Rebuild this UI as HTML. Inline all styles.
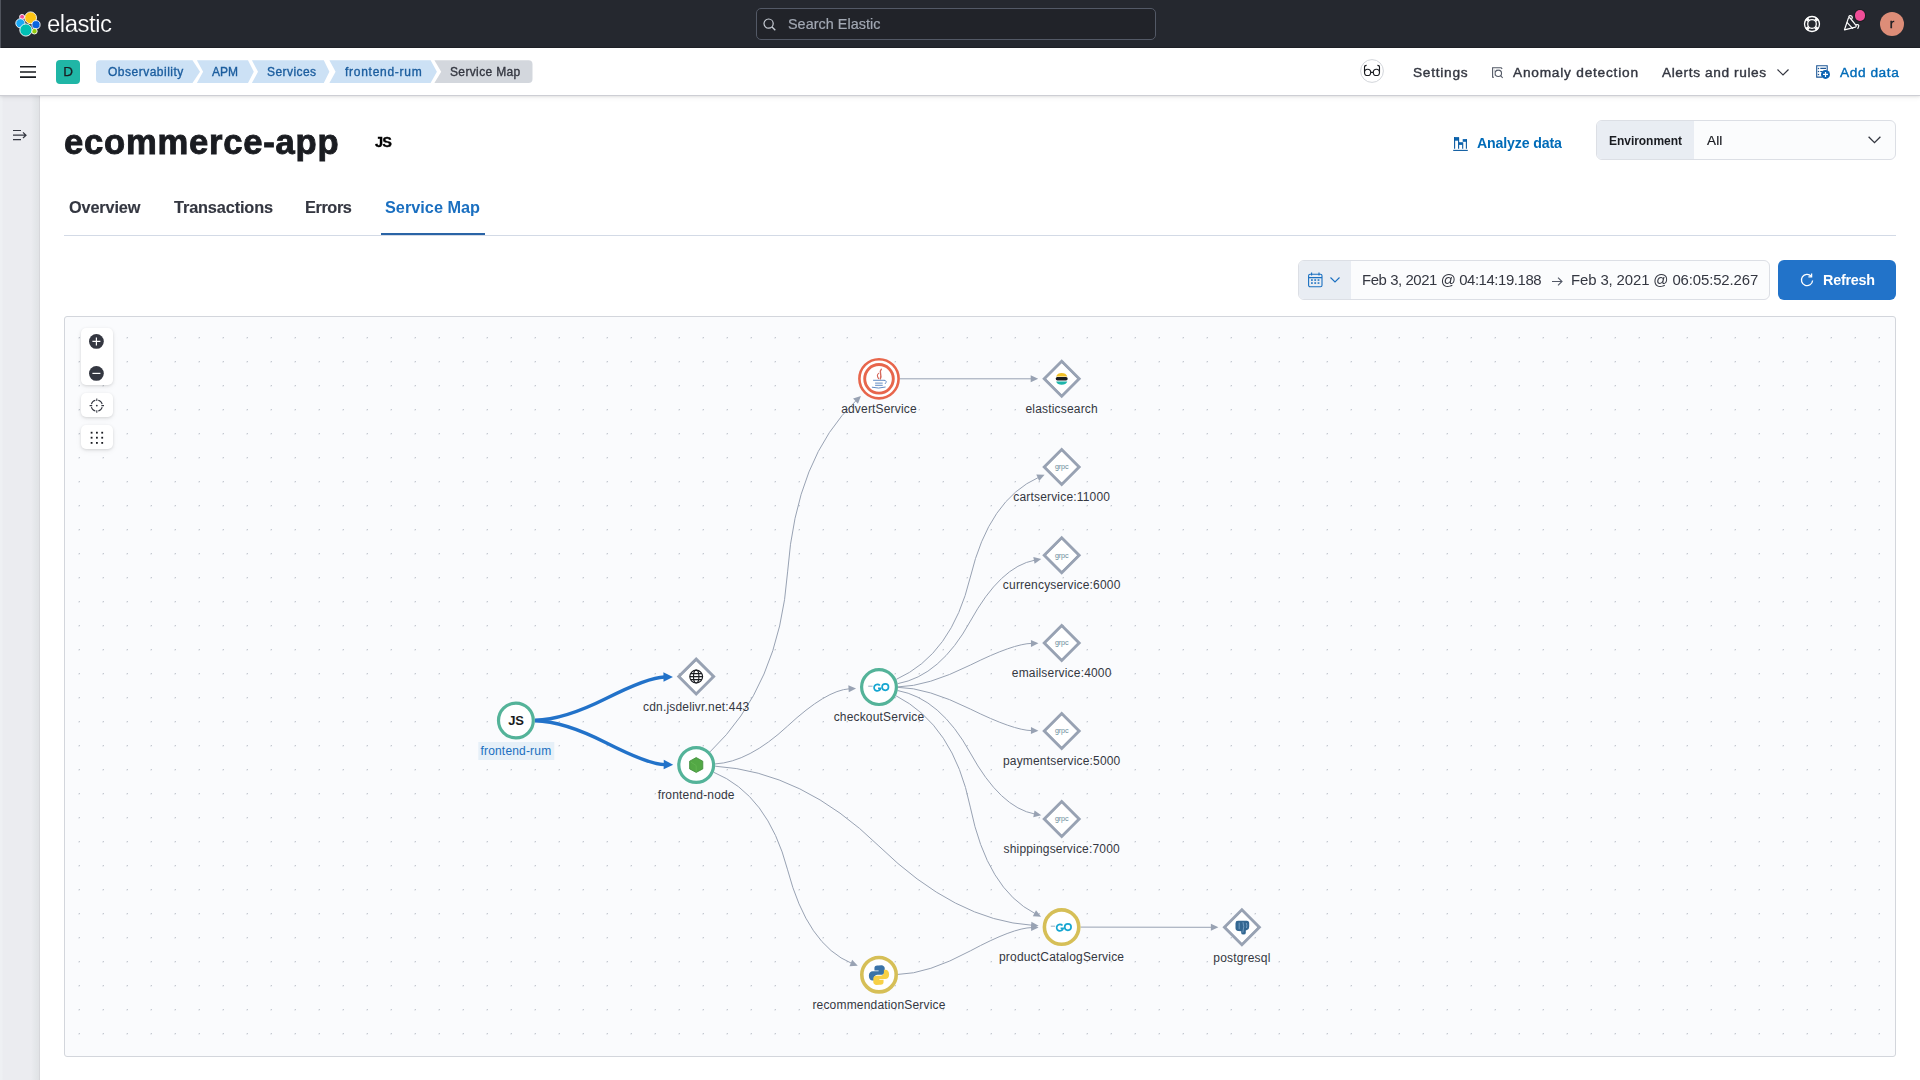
<!DOCTYPE html>
<html><head><meta charset="utf-8"><style>
*{box-sizing:border-box;margin:0;padding:0}
html,body{width:1920px;height:1080px;overflow:hidden;background:#fff;font-family:"Liberation Sans",sans-serif;color:#343741}
.a{position:absolute;white-space:nowrap;line-height:1}
body{-webkit-font-smoothing:antialiased}
.t{will-change:transform}
#top{position:absolute;left:0;top:0;width:1920px;height:48px;background:#25282f}
#search{position:absolute;left:756px;top:8px;width:400px;height:32px;border:1px solid #535966;border-radius:5px;background:#212329}
#hdr2{position:absolute;left:0;top:48px;width:1920px;height:48px;background:#fff;border-bottom:1px solid #cdced4;box-shadow:0 1px 2px rgba(0,0,0,.07),0 2px 5px rgba(0,0,0,.05)}
#leftnav{position:absolute;left:0;top:96px;width:40px;height:984px;background:linear-gradient(90deg,#eef0f3 0,#eef0f3 2px,#ebecf0 3px,#ebecf0 31px,#e3e6e9 36px,#e1e3e6 38.5px,#d6d7db 39px,#d6d7db 40px)}
#map{position:absolute;left:64px;top:316px;width:1832px;height:741px;border:1px solid #d3d6dc;border-radius:3px;background:#fafbfd}
.ctl{position:absolute;left:81px;width:32px;background:#fff;border-radius:5px;box-shadow:0 1px 3px rgba(0,0,0,.12),0 2px 6px rgba(0,0,0,.05)}
</style></head><body>
<div id="top"><div id="search"></div><div class="a" style="left:0;top:0;width:1px;height:48px;background:#50545d"></div><div class="a" style="left:1px;top:47px;width:1919px;height:1px;background:#202228"></div></div>
<div id="leftnav"></div><div id="map"></div><div id="hdr2"></div>
<svg class="a" style="left:0;top:0" width="1920" height="1080" viewBox="0 0 1920 1080">
<defs><pattern id="dots" x="0" y="0" width="24" height="24" patternUnits="userSpaceOnUse"><rect x="7" y="1" width="1" height="1" fill="#c4c9d1"/><rect x="6" y="1" width="1" height="1" fill="#e9ebef"/><rect x="6" y="2" width="2" height="1" fill="#eceef2"/></pattern><clipPath id="mc"><rect x="65" y="317" width="1830" height="739" rx="2"/></clipPath></defs>
<g clip-path="url(#mc)"><rect x="65" y="317" width="1830" height="739" fill="url(#dots)"/>
<path d="M534.90,720.25Q563.50,719.89 606.05,698.55Q648.60,677.21 664.45,677.01" stroke="#2272c9" stroke-width="3.4" fill="none"/><polygon points="672.95,676.90 663.51,681.77 663.39,672.27" fill="#2272c9"/>
<path d="M534.90,720.75Q563.56,721.14 606.05,742.75Q648.54,764.36 664.70,764.58" stroke="#2272c9" stroke-width="3.4" fill="none"/><polygon points="673.20,764.69 663.64,769.31 663.77,759.81" fill="#2272c9"/>
<path d="M709.98,751.91Q779.24,686.12 787.60,571.90Q795.96,457.68 856.23,400.43" stroke="#98a2b3" stroke-width="1" fill="none"/><polygon points="860.95,395.95 857.92,403.65 853.10,398.58" fill="#98a2b3"/>
<path d="M715.17,763.92Q748.92,762.01 787.60,726.05Q826.28,690.09 849.55,688.77" stroke="#98a2b3" stroke-width="1" fill="none"/><polygon points="856.04,688.40 848.75,692.32 848.35,685.33" fill="#98a2b3"/>
<path d="M715.16,766.19Q802.57,771.66 878.90,846.05Q955.23,920.44 1032.16,925.26" stroke="#98a2b3" stroke-width="1" fill="none"/><polygon points="1038.65,925.66 1030.94,928.69 1031.38,921.70" fill="#98a2b3"/>
<path d="M713.74,772.29Q767.87,794.79 787.60,869.85Q807.33,944.91 851.76,963.38" stroke="#98a2b3" stroke-width="1" fill="none"/><polygon points="857.76,965.87 849.49,966.23 852.18,959.76" fill="#98a2b3"/>
<path d="M899.90,378.80L1031.70,378.80" stroke="#98a2b3" stroke-width="1" fill="none"/><polygon points="1038.20,378.80 1030.70,382.30 1030.70,375.30" fill="#98a2b3"/>
<path d="M896.34,679.33Q951.72,654.52 970.35,577.05Q988.98,499.58 1038.65,477.33" stroke="#98a2b3" stroke-width="1" fill="none"/><polygon points="1044.58,474.67 1039.17,480.93 1036.31,474.54" fill="#98a2b3"/>
<path d="M897.69,683.66Q940.32,675.80 970.35,621.15Q1000.38,566.50 1034.91,560.14" stroke="#98a2b3" stroke-width="1" fill="none"/><polygon points="1041.30,558.96 1034.56,563.76 1033.29,556.88" fill="#98a2b3"/>
<path d="M898.00,686.86Q927.19,686.49 970.35,665.05Q1013.51,643.61 1031.94,643.37" stroke="#98a2b3" stroke-width="1" fill="none"/><polygon points="1038.44,643.29 1030.99,646.89 1030.90,639.89" fill="#98a2b3"/>
<path d="M898.00,687.34Q927.17,687.70 970.35,709.05Q1013.53,730.40 1031.94,730.63" stroke="#98a2b3" stroke-width="1" fill="none"/><polygon points="1038.44,730.71 1030.90,734.12 1030.98,727.12" fill="#98a2b3"/>
<path d="M897.69,690.54Q940.32,698.40 970.35,753.05Q1000.38,807.70 1034.91,814.06" stroke="#98a2b3" stroke-width="1" fill="none"/><polygon points="1041.30,815.24 1033.29,817.32 1034.56,810.44" fill="#98a2b3"/>
<path d="M895.93,695.73Q953.56,725.10 970.30,807.10Q987.04,889.10 1035.32,913.70" stroke="#98a2b3" stroke-width="1" fill="none"/><polygon points="1041.11,916.66 1032.84,916.37 1036.02,910.13" fill="#98a2b3"/>
<path d="M898.00,974.40Q927.55,973.94 970.30,950.90Q1013.05,927.86 1032.10,927.56" stroke="#98a2b3" stroke-width="1" fill="none"/><polygon points="1038.60,927.46 1031.16,931.08 1031.05,924.08" fill="#98a2b3"/>
<path d="M1080.60,927.10L1211.90,927.30" stroke="#98a2b3" stroke-width="1" fill="none"/><polygon points="1218.40,927.30 1210.90,930.80 1210.90,923.80" fill="#98a2b3"/>
<circle cx="515.9" cy="720.5" r="17.4" fill="#fff" stroke="#54b399" stroke-width="3.2"/>
<path d="M696.2,657.1L715.7,676.6L696.2,696.1L676.7,676.6Z M696.2,661.4L681.0,676.6L696.2,691.8000000000001L711.4000000000001,676.6Z" fill="#98a2b3" fill-rule="evenodd"/>
<path d="M696.2,661.4L711.4000000000001,676.6L696.2,691.8000000000001L681.0,676.6Z" fill="#fff"/>
<circle cx="696.2" cy="765.0" r="17.4" fill="#fff" stroke="#54b399" stroke-width="3.2"/>
<circle cx="879.0" cy="378.8" r="20.9" fill="#fff"/>
<circle cx="879.0" cy="378.8" r="19.6" fill="none" stroke="#e7664c" stroke-width="2.6"/>
<circle cx="879.0" cy="378.8" r="14.3" fill="none" stroke="#e7664c" stroke-width="2.9"/>
<path d="M1061.7,359.3L1081.2,378.8L1061.7,398.3L1042.2,378.8Z M1061.7,363.6L1046.5,378.8L1061.7,394.0L1076.9,378.8Z" fill="#98a2b3" fill-rule="evenodd"/>
<path d="M1061.7,363.6L1076.9,378.8L1061.7,394.0L1046.5,378.8Z" fill="#fff"/>
<path d="M1061.7,447.5L1081.2,467.0L1061.7,486.5L1042.2,467.0Z M1061.7,451.8L1046.5,467.0L1061.7,482.2L1076.9,467.0Z" fill="#98a2b3" fill-rule="evenodd"/>
<path d="M1061.7,451.8L1076.9,467.0L1061.7,482.2L1046.5,467.0Z" fill="#fff"/>
<path d="M1061.7,535.7L1081.2,555.2L1061.7,574.7L1042.2,555.2Z M1061.7,540.0L1046.5,555.2L1061.7,570.4000000000001L1076.9,555.2Z" fill="#98a2b3" fill-rule="evenodd"/>
<path d="M1061.7,540.0L1076.9,555.2L1061.7,570.4000000000001L1046.5,555.2Z" fill="#fff"/>
<path d="M1061.7,623.5L1081.2,643.0L1061.7,662.5L1042.2,643.0Z M1061.7,627.8L1046.5,643.0L1061.7,658.2L1076.9,643.0Z" fill="#98a2b3" fill-rule="evenodd"/>
<path d="M1061.7,627.8L1076.9,643.0L1061.7,658.2L1046.5,643.0Z" fill="#fff"/>
<path d="M1061.7,711.5L1081.2,731.0L1061.7,750.5L1042.2,731.0Z M1061.7,715.8L1046.5,731.0L1061.7,746.2L1076.9,731.0Z" fill="#98a2b3" fill-rule="evenodd"/>
<path d="M1061.7,715.8L1076.9,731.0L1061.7,746.2L1046.5,731.0Z" fill="#fff"/>
<path d="M1061.7,799.5L1081.2,819.0L1061.7,838.5L1042.2,819.0Z M1061.7,803.8L1046.5,819.0L1061.7,834.2L1076.9,819.0Z" fill="#98a2b3" fill-rule="evenodd"/>
<path d="M1061.7,803.8L1076.9,819.0L1061.7,834.2L1046.5,819.0Z" fill="#fff"/>
<circle cx="879.0" cy="687.1" r="17.4" fill="#fff" stroke="#54b399" stroke-width="3.2"/>
<circle cx="1061.6" cy="927.1" r="17.2" fill="#fff" stroke="#d6bf57" stroke-width="3.6"/>
<path d="M1241.9,907.8L1261.4,927.3L1241.9,946.8L1222.4,927.3Z M1241.9,912.0999999999999L1226.7,927.3L1241.9,942.5L1257.1000000000001,927.3Z" fill="#98a2b3" fill-rule="evenodd"/>
<path d="M1241.9,912.0999999999999L1257.1000000000001,927.3L1241.9,942.5L1226.7,927.3Z" fill="#fff"/>
<circle cx="879.0" cy="974.7" r="17.2" fill="#fff" stroke="#d6bf57" stroke-width="3.6"/>
<text x="515.9" y="725.3" text-anchor="middle" font-size="13" font-weight="700" fill="#1a1c21" font-family="Liberation Sans" letter-spacing="-0.3">JS</text>
<g stroke="#1a1c21" stroke-width="1.15" fill="none"><circle cx="696.2" cy="676.6" r="6.4"/><ellipse cx="696.2" cy="676.6" rx="2.7" ry="6.4"/><path d="M689.8000000000001,676.6h12.8M690.6,673.6h11.2M690.6,679.6h11.2"/></g>
<polygon points="696.2,757.55 702.8000000000001,761.2 702.8000000000001,768.9 696.2,772.45 689.6,768.9 689.6,761.2" fill="#53a845" stroke="#3f8b3a" stroke-width="0.8" stroke-linejoin="round"/><path d="M696.2,765.5V772.0M696.2,765.5L690.7,762.0" stroke="#66b955" stroke-width="0.7" fill="none"/>
<g fill="none" stroke-linecap="round"><path d="M881.3 369.2C878.3 372 882.6 374.6 880.3 378.9" stroke="#d6695c" stroke-width="1.4"/><path d="M878.6 373.4C876.3 375.2 877.6 377.2 878.6 378.6" stroke="#d6695c" stroke-width="1.1"/><path d="M873.5 380.3H884M875.5 383.1H882.3M875.5 385.3H882.3M872.3 387.3Q878.5 389 885.2 387.1M884.3 380.3Q887.8 380.6 885.3 383.6" stroke="#5b86c0" stroke-width="0.95"/></g>
<path d="M1056.1000000000001,376.5a5.9,5 0 0 1 11.2,0z" fill="#f0c02a"/><rect x="1055.7" y="377.0" width="12" height="3.5" rx="1.7" fill="#1a1c21"/><path d="M1056.1000000000001,381.5a5.9,4.8 0 0 0 11.2,0z" fill="#1eb5ab"/>
<text x="1061.7" y="469.3" text-anchor="middle" font-size="7.2" fill="#6b8d9a" font-family="Liberation Sans" letter-spacing="-0.15">grpc</text>
<text x="1061.7" y="557.5" text-anchor="middle" font-size="7.2" fill="#6b8d9a" font-family="Liberation Sans" letter-spacing="-0.15">grpc</text>
<text x="1061.7" y="645.3" text-anchor="middle" font-size="7.2" fill="#6b8d9a" font-family="Liberation Sans" letter-spacing="-0.15">grpc</text>
<text x="1061.7" y="733.3" text-anchor="middle" font-size="7.2" fill="#6b8d9a" font-family="Liberation Sans" letter-spacing="-0.15">grpc</text>
<text x="1061.7" y="821.3" text-anchor="middle" font-size="7.2" fill="#6b8d9a" font-family="Liberation Sans" letter-spacing="-0.15">grpc</text>
<g fill="none"><path d="M868.2,686.2h4.3" stroke="#8aa3b8" stroke-width="0.9"/><path d="M879.9,685.5A3.3,3.3 0 1 0 880.6,688.3000000000001H878.0" stroke="#17a6d1" stroke-width="1.7"/><circle cx="885.3" cy="687.1" r="3.2" stroke="#17a6d1" stroke-width="1.7"/></g>
<g fill="none"><path d="M1050.8,926.2h4.3" stroke="#8aa3b8" stroke-width="0.9"/><path d="M1062.5,925.5A3.3,3.3 0 1 0 1063.1999999999998,928.3000000000001H1060.6" stroke="#17a6d1" stroke-width="1.7"/><circle cx="1067.8999999999999" cy="927.1" r="3.2" stroke="#17a6d1" stroke-width="1.7"/></g>
<g transform="translate(879.0,974.9000000000001) scale(1.3) translate(-879.0,-974.7)"><path d="M878.5,967.5c-3,0 -3,1.3 -3,2.5v1.3h3.2v.6h-4.5c-1.7,0 -3,1.2 -3,3.5c0,2.4 1.2,3.6 2.8,3.6h1.2v-1.9c0,-1.5 1.2,-2.6 2.7,-2.6h3.3c1.2,0 2.2,-1 2.2,-2.2v-2.7c0,-1.3 -1.2,-2.2 -2.4,-2.3z" fill="#3b73a8"/><path d="M879.5,982.3000000000001c3,0 3,-1.3 3,-2.5v-1.3h-3.2v-.6h4.5c1.7,0 3,-1.2 3,-3.5c0,-2.4 -1.2,-3.6 -2.8,-3.6h-1.2v1.9c0,1.5 -1.2,2.6 -2.7,2.6h-3.3c-1.2,0 -2.2,1 -2.2,2.2v2.7c0,1.3 1.2,2.2 2.4,2.3z" fill="#f7d046"/></g>
<path d="M1235.5 923.2Q1235.5 920.8 1238 920.8H1246.8Q1249.2 920.8 1249.2 923.5V926.8Q1249.2 929.4 1247 930L1245.8 930.4V933Q1245.8 934.5 1243.5 934.5Q1241.2 934.5 1241.2 933V931.2L1238.2 931Q1235.5 930.6 1235.5 928Z" fill="#336791"/><path d="M1239.2 922.6V929.2M1243 922.2Q1244.6 926 1242.8 932.6M1246.3 923Q1247.3 925.5 1246.5 928" stroke="#8db3d6" stroke-width="0.7" fill="none"/>
<rect x="478.29999999999995" y="742.0" width="76" height="18" fill="#e6f0f8"/>
<text x="515.9" y="754.7" text-anchor="middle" font-size="12" fill="#1a6fc0" font-family="Liberation Sans" letter-spacing="0.18">frontend-rum</text>
<text x="696.2" y="710.8000000000001" text-anchor="middle" font-size="12" fill="#343741" font-family="Liberation Sans" letter-spacing="0.18">cdn.jsdelivr.net:443</text>
<text x="696.2" y="799.2" text-anchor="middle" font-size="12" fill="#343741" font-family="Liberation Sans" letter-spacing="0.18">frontend-node</text>
<text x="879.0" y="413.0" text-anchor="middle" font-size="12" fill="#343741" font-family="Liberation Sans" letter-spacing="0.18">advertService</text>
<text x="1061.7" y="413.0" text-anchor="middle" font-size="12" fill="#343741" font-family="Liberation Sans" letter-spacing="0.18">elasticsearch</text>
<text x="1061.7" y="501.2" text-anchor="middle" font-size="12" fill="#343741" font-family="Liberation Sans" letter-spacing="0.18">cartservice:11000</text>
<text x="1061.7" y="589.4000000000001" text-anchor="middle" font-size="12" fill="#343741" font-family="Liberation Sans" letter-spacing="0.18">currencyservice:6000</text>
<text x="1061.7" y="677.2" text-anchor="middle" font-size="12" fill="#343741" font-family="Liberation Sans" letter-spacing="0.18">emailservice:4000</text>
<text x="1061.7" y="765.2" text-anchor="middle" font-size="12" fill="#343741" font-family="Liberation Sans" letter-spacing="0.18">paymentservice:5000</text>
<text x="1061.7" y="853.2" text-anchor="middle" font-size="12" fill="#343741" font-family="Liberation Sans" letter-spacing="0.18">shippingservice:7000</text>
<text x="879.0" y="721.3000000000001" text-anchor="middle" font-size="12" fill="#343741" font-family="Liberation Sans" letter-spacing="0.18">checkoutService</text>
<text x="1061.6" y="961.3000000000001" text-anchor="middle" font-size="12" fill="#343741" font-family="Liberation Sans" letter-spacing="0.18">productCatalogService</text>
<text x="1241.9" y="961.5" text-anchor="middle" font-size="12" fill="#343741" font-family="Liberation Sans" letter-spacing="0.18">postgresql</text>
<text x="879.0" y="1008.9000000000001" text-anchor="middle" font-size="12" fill="#343741" font-family="Liberation Sans" letter-spacing="0.18">recommendationService</text>
</g></svg>
<div class="ctl" style="top:328px;height:57px"></div>
<div class="ctl" style="top:393px;height:24px"></div>
<div class="ctl" style="top:425px;height:24px"></div>
<svg class="a" style="left:81px;top:328px" width="32" height="122" viewBox="81 328 32 122">
<circle cx="96.4" cy="341.4" r="7.4" fill="#343741"/><path d="M96.4 337.4v8M92.4 341.4h8" stroke="#fff" stroke-width="1.2"/>
<circle cx="96.4" cy="373.4" r="7.4" fill="#343741"/><path d="M92.4 373.4h8" stroke="#fff" stroke-width="1.2"/>
<path d="M102.21 407.05A5.6 5.6 0 0 1 98.25 411.01M95.35 411.01A5.6 5.6 0 0 1 91.39 407.05M91.39 404.15A5.6 5.6 0 0 1 95.35 400.19M98.25 400.19A5.6 5.6 0 0 1 102.21 404.15M96.8 398.40000000000003v2.6M96.8 410.20000000000005v2.6M89.6 405.6h2.6M101.39999999999999 405.6h2.6" fill="none" stroke="#343741" stroke-width="1.05"/><circle cx="96.8" cy="405.6" r="0.9" fill="#343741"/>
<g fill="#1a1c21"><rect x="90.7" y="431.8" width="1.8" height="1.8"/><rect x="96" y="431.8" width="1.8" height="1.8"/><rect x="101.3" y="431.8" width="1.8" height="1.8"/><rect x="90.7" y="436.8" width="1.8" height="1.8"/><rect x="96" y="436.8" width="1.8" height="1.8"/><rect x="101.3" y="436.8" width="1.8" height="1.8"/><rect x="90.7" y="442" width="1.8" height="1.8"/><rect x="96" y="442" width="1.8" height="1.8"/><rect x="101.3" y="442" width="1.8" height="1.8"/></g>
</svg>
<svg class="a" style="left:14px;top:10px" width="29" height="29" viewBox="14 10 29 29">
<g stroke="#fff" stroke-width="0.9">
<circle cx="30.6" cy="17.8" r="5.9" fill="#fec514"/>
<circle cx="22.1" cy="16.9" r="2.5" fill="#f04e98"/>
<circle cx="20.4" cy="23.3" r="4.6" fill="#1ba9f5"/>
<circle cx="36" cy="24.7" r="4.1" fill="#0b64dd"/>
<circle cx="34.4" cy="31.2" r="2.8" fill="#93c90e"/>
<circle cx="25.9" cy="30" r="6.1" fill="#00bfb3"/>
</g></svg>
<svg class="a" style="left:763px;top:18px" width="13" height="13" viewBox="0 0 13 13"><circle cx="5.6" cy="5.6" r="4.6" stroke="#c9ced6" stroke-width="1.2" fill="none"/><path d="M9 9l3.3 3.3" stroke="#c9ced6" stroke-width="1.3"/></svg>
<svg class="a" style="left:1802px;top:14px" width="20" height="20" viewBox="1802 14 20 20"><g stroke="#fff" fill="none">
<circle cx="1812" cy="24" r="7.5" stroke-width="1.3"/><circle cx="1812" cy="24" r="4.3" stroke-width="1.3"/>
<path d="M1808.6 20.6l-2.3-2.3M1815.4 20.6l2.3-2.3M1808.6 27.4l-2.3 2.3M1815.4 27.4l2.3 2.3" stroke-width="3.2"/></g></svg>
<svg class="a" style="left:1842px;top:13px" width="20" height="20" viewBox="1842 13 20 20"><g stroke="#fff" stroke-width="1.2" fill="none" stroke-linejoin="round" stroke-linecap="round">
<path d="M1844.5 29.8L1848.3 18.4Q1849 17.2 1850.1 18L1856 25.3Q1856.6 26.6 1855.4 27.1Z"/><path d="M1847.2 22.6L1852.6 28.3"/><path d="M1856.6 24.6Q1858.7 24.3 1858.8 25.9L1857.9 28.4"/><path d="M1848.8 16.6Q1850 14.9 1851.8 16.2Q1852.8 17.4 1851.9 18.5"/></g></svg>
<div class="a" style="left:1854.6px;top:10.4px;width:10.8px;height:10.8px;border-radius:50%;background:#f04e98;box-shadow:0 0 0 1px #1c1d22"></div>
<div class="a t" style="left:1880px;top:12px;width:24px;height:24px;border-radius:50%;background:#dd8d78;color:#1a1c21;font-size:13.5px;font-weight:400;-webkit-text-stroke:0.4px #1a1c21;text-align:center;line-height:24.5px">r</div>
<svg class="a" style="left:20px;top:65px" width="16" height="14" viewBox="0 0 16 14"><path d="M0 1.8h16M0 7h16M0 12.1h16" stroke="#1a1c21" stroke-width="1.6"/></svg>
<div class="a t" style="left:56px;top:60px;width:24px;height:24px;border-radius:4px;background:#20b6a6;color:#1a1c21;font-size:13.5px;font-weight:400;-webkit-text-stroke:0.25px #1a1c21;text-align:center;line-height:24px">D</div>
<svg class="a" style="left:90px;top:58px" width="450" height="28" viewBox="90 58 450 28">
<path d="M100 60.3H192.5L200 71.7L192.5 83.1H100A4 4 0 0 1 96 79.1V64.3A4 4 0 0 1 100 60.3Z" fill="#cce1f5"/>
<path d="M196.9 60.3H248L253.8 71.7L248 83.1H196.9L203.1 71.7Z" fill="#cce1f5"/>
<path d="M251.9 60.3H323.8L329.4 71.7L323.8 83.1H251.9L258 71.7Z" fill="#cce1f5"/>
<path d="M329.4 60.3H430.6L436.9 71.7L430.6 83.1H329.4L335.6 71.7Z" fill="#cce1f5"/>
<path d="M434.4 60.3H528.5A4 4 0 0 1 532.5 64.3V79.1A4 4 0 0 1 528.5 83.1H434.4L441.2 71.7Z" fill="#d3d7dd"/>
</svg>
<svg class="a" style="left:1358px;top:57px" width="28" height="28" viewBox="1358 57 28 28"><circle cx="1372" cy="71" r="11.4" fill="#fff" stroke="#d3d6db" stroke-width="1"/>
<g stroke="#1a1c21" stroke-width="1.1" fill="none"><circle cx="1367.6" cy="72.4" r="3.1"/><circle cx="1376.4" cy="72.4" r="3.1"/><path d="M1370.7 72.4H1373.3M1364.5 72.4V67.2Q1364.5 65.4 1366.6 65.4M1379.5 72.4V67.2Q1379.5 65.4 1377.4 65.4"/></g></svg>
<svg class="a" style="left:1490px;top:66px" width="15" height="14" viewBox="1490 66 15 14"><g stroke="#535966" stroke-width="1.1" fill="none">
<path d="M1494 77.2h-1.4V67.8h8.6l1 1"/><circle cx="1498.3" cy="73.3" r="3.2"/><path d="M1500.6 75.7l2.1 2.3"/></g>
<path d="M1494.5 69.5v6M1496.2 69.3h3" stroke="#c4c8ce" stroke-width="0.8"/></svg>
<svg class="a" style="left:1777px;top:69px" width="12" height="7" viewBox="0 0 12 7"><path d="M.5.5l5.5 5.5 5.5-5.5" stroke="#343741" stroke-width="1.2" fill="none"/></svg>
<svg class="a" style="left:1815px;top:64px" width="17" height="16" viewBox="1815 64 17 16"><g stroke="#1d5796" stroke-width="1.1" fill="none">
<path d="M1822 77.1h-5.3V65.7h10.5v5"/><path d="M1820.3 68.4h5.7M1820.3 71.5h2"/></g>
<g fill="#1d5796"><circle cx="1818.5" cy="68.4" r="0.75"/><circle cx="1818.5" cy="71.5" r="0.75"/><circle cx="1818.5" cy="74.4" r="0.75"/></g>
<circle cx="1825.5" cy="74.4" r="4.5" fill="#0b64b4"/><path d="M1825.5 71.9v5M1823 74.4h5" stroke="#fff" stroke-width="1.2"/></svg>
<svg class="a" style="left:12px;top:129px" width="16" height="12" viewBox="0 0 16 12"><g stroke="#343741" stroke-width="1.2" fill="none"><path d="M1 1.5h8M1 6.2h13M1 10.7h8M11 3.4l3 2.8-3 2.8"/></g></svg>
<div class="a t" style="left:374.6px;top:135.3px;font-size:14.5px;font-weight:700;color:#000;letter-spacing:-0.9px;-webkit-text-stroke:0.35px #000">JS</div>
<svg class="a" style="left:1452px;top:136px" width="17" height="16" viewBox="1452 136 17 16"><g fill="#0b64b0">
<rect x="1454" y="137.1" width="4.9" height="3.6"/><rect x="1458.9" y="142.2" width="3.8" height="2.7"/><rect x="1462.7" y="139.1" width="4.2" height="2.7"/></g>
<g stroke="#0b5aa0" stroke-width="1.1" fill="none"><path d="M1454.6 137v11.8M1458.6 137.5v11.3M1462.7 142.5v6.3M1466.4 139.3v9.5"/><path d="M1453.2 150.4h14.6"/></g></svg>
<div class="a" style="left:1596px;top:120px;width:300px;height:40px;border:1px solid #dcdfe5;border-radius:6px;background:#fbfcfd;overflow:hidden"><div style="position:absolute;left:0;top:0;width:97px;height:38px;background:#e9edf3"></div></div>
<svg class="a" style="left:1868px;top:135.5px" width="13" height="8" viewBox="0 0 13 8"><path d="M.6.7l5.9 5.9 5.9-5.9" stroke="#343741" stroke-width="1.3" fill="none"/></svg>
<div class="a" style="left:64px;top:235px;width:1832px;height:1px;background:#d3dae6"></div>
<div class="a" style="left:381px;top:232.7px;width:104px;height:2.6px;background:#2a64a6"></div>
<div class="a" style="left:1298px;top:260px;width:472px;height:40px;border:1px solid #dcdfe5;border-radius:6px;background:#fbfcfd;overflow:hidden"><div style="position:absolute;left:0;top:0;width:52px;height:38px;background:#e9edf3"></div></div>
<svg class="a" style="left:1308px;top:272px" width="15" height="16" viewBox="0 0 15 16"><g stroke="#1a6fc0" stroke-width="1.1" fill="none"><rect x="0.6" y="2.2" width="13.4" height="12.6" rx="1.5"/><path d="M.6 5.6h13.4M3.6.4v3.2M11 .4v3.2"/></g><g fill="#1a6fc0"><rect x="3" y="7.3" width="1.8" height="1.5"/><rect x="6.3" y="7.3" width="1.8" height="1.5"/><rect x="9.6" y="7.3" width="1.8" height="1.5"/><rect x="3" y="10.3" width="1.8" height="1.5"/><rect x="6.3" y="10.3" width="1.8" height="1.5"/><rect x="9.6" y="10.3" width="1.8" height="1.5"/></g></svg>
<svg class="a" style="left:1330px;top:277px" width="10" height="6" viewBox="0 0 10 6"><path d="M.5.5l4.5 4.5 4.5-4.5" stroke="#1a6fc0" stroke-width="1.1" fill="none"/></svg>
<svg class="a" style="left:1552px;top:277px" width="11" height="9" viewBox="0 0 11 9"><path d="M0 4.5h10M6 .6l4 3.9-4 3.9" stroke="#535966" stroke-width="1.1" fill="none"/></svg>
<div class="a" style="left:1778px;top:260px;width:118px;height:40px;border-radius:6px;background:#2273c9"></div>
<svg class="a" style="left:1800px;top:272.5px" width="14" height="14" viewBox="0 0 14 14"><g stroke="#fff" stroke-width="1.3" fill="none"><path d="M11.2 3.3A5.6 5.6 0 1 0 12.6 7.5"/><path d="M11.6 .6v3.2H8.4"/></g></svg>
<div class="a t" id="t_elastic" style="left:47.1px;top:12.32px;font-size:23.92px;font-weight:400;color:#fff;letter-spacing:-0.467px;-webkit-text-stroke:0.2px #25282f;">elastic</div>
<div class="a t" id="t_search" style="left:788px;top:17.41px;font-size:14.36px;font-weight:400;color:#a2a8b3;letter-spacing:0.046px;-webkit-text-stroke:0.2px #a2a8b3;">Search Elastic</div>
<div class="a t" id="t_bc1" style="left:108.0px;top:65.7px;font-size:12.0px;font-weight:400;color:#1b5d9e;letter-spacing:0.5px;-webkit-text-stroke:0.35px #1b5d9e;">Observability</div>
<div class="a t" id="t_bc2" style="left:212.0px;top:65.71px;font-size:12.0px;font-weight:400;color:#1b5d9e;letter-spacing:0.0px;-webkit-text-stroke:0.35px #1b5d9e;">APM</div>
<div class="a t" id="t_bc3" style="left:267.0px;top:65.71px;font-size:12.0px;font-weight:400;color:#1b5d9e;letter-spacing:0.429px;-webkit-text-stroke:0.35px #1b5d9e;">Services</div>
<div class="a t" id="t_bc4" style="left:345px;top:65.71px;font-size:12.0px;font-weight:400;color:#1b5d9e;letter-spacing:0.727px;-webkit-text-stroke:0.35px #1b5d9e;">frontend-rum</div>
<div class="a t" id="t_bc5" style="left:450.4px;top:65.72px;font-size:12.0px;font-weight:400;color:#343741;letter-spacing:0.36px;-webkit-text-stroke:0.35px #343741;">Service Map</div>
<div class="a t" id="t_settings" style="left:1412.8px;top:65.51px;font-size:13.7px;font-weight:400;color:#343741;letter-spacing:0.743px;-webkit-text-stroke:0.4px #343741;">Settings</div>
<div class="a t" id="t_anom" style="left:1512.6px;top:65.51px;font-size:13.7px;font-weight:400;color:#343741;letter-spacing:0.775px;-webkit-text-stroke:0.4px #343741;">Anomaly detection</div>
<div class="a t" id="t_alerts" style="left:1662.0px;top:65.51px;font-size:13.7px;font-weight:400;color:#343741;letter-spacing:0.6px;-webkit-text-stroke:0.4px #343741;">Alerts and rules</div>
<div class="a t" id="t_add" style="left:1839.8px;top:65.51px;font-size:13.7px;font-weight:400;color:#006bb8;letter-spacing:0.571px;-webkit-text-stroke:0.4px #006bb8;">Add data</div>
<div class="a t" id="t_title" style="left:64px;top:124.61px;font-size:34.61px;font-weight:700;color:#1a1c21;letter-spacing:0.767px;-webkit-text-stroke:0.9px #1a1c21;">ecommerce-app</div>
<div class="a t" id="t_analyze" style="left:1477.0px;top:135.9px;font-size:14.16px;font-weight:700;color:#006bb8;letter-spacing:-0.145px;">Analyze data</div>
<div class="a t" id="t_env" style="left:1609px;top:134.7px;font-size:12.0px;font-weight:700;color:#1a1c21;letter-spacing:-0.04px;">Environment</div>
<div class="a t" id="t_all" style="left:1706.6px;top:133.81px;font-size:13.46px;font-weight:400;color:#1a1c21;letter-spacing:0.2px;-webkit-text-stroke:0.2px #1a1c21;">All</div>
<div class="a t" id="t_ov" style="left:68.8px;top:198.9px;font-size:16.3px;font-weight:700;color:#343741;letter-spacing:-0.143px;-webkit-text-stroke:0.15px #343741;">Overview</div>
<div class="a t" id="t_tr" style="left:174.4px;top:198.9px;font-size:16.3px;font-weight:700;color:#343741;letter-spacing:-0.127px;-webkit-text-stroke:0.15px #343741;">Transactions</div>
<div class="a t" id="t_er" style="left:305px;top:198.9px;font-size:16.3px;font-weight:700;color:#343741;letter-spacing:-0.4px;-webkit-text-stroke:0.15px #343741;">Errors</div>
<div class="a t" id="t_sm" style="left:385.0px;top:198.91px;font-size:16.3px;font-weight:700;color:#1a6fc0;letter-spacing:0.0px;">Service Map</div>
<div class="a t" id="t_d1" style="left:1361.6px;top:272.91px;font-size:14.93px;font-weight:400;color:#343741;letter-spacing:-0.424px;">Feb 3, 2021 @ 04:14:19.188</div>
<div class="a t" id="t_d2" style="left:1571.2px;top:272.91px;font-size:14.93px;font-weight:400;color:#343741;letter-spacing:-0.12px;">Feb 3, 2021 @ 06:05:52.267</div>
<div class="a t" id="t_refresh" style="left:1823.0px;top:273.0px;font-size:14.36px;font-weight:700;color:#fff;letter-spacing:-0.233px;">Refresh</div>
</body></html>
